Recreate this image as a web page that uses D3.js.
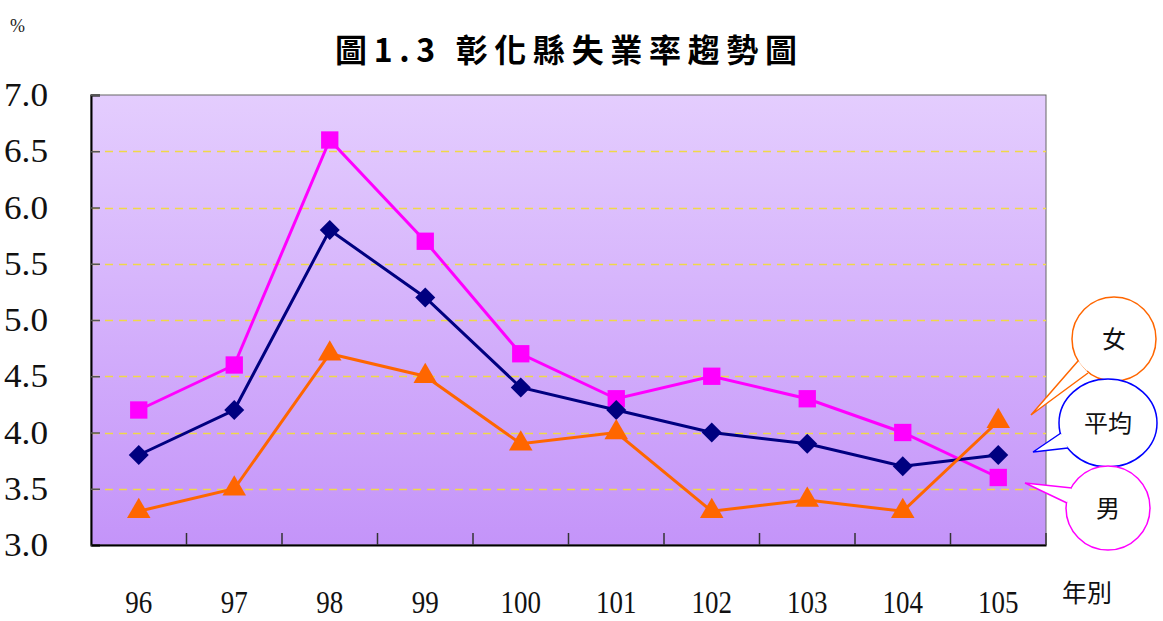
<!DOCTYPE html>
<html><head><meta charset="utf-8">
<script src="https://cdn.jsdelivr.net/npm/d3@7"></script>
<style>body{margin:0;background:#fff}svg{display:block}</style>
</head><body><svg id="c" width="1163" height="621"></svg>
<script>
const years = ["96","97","98","99","100","101","102","103","104","105"];
const male = [4.2,4.6,6.6,5.7,4.7,4.3,4.5,4.3,4.0,3.6];
const average = [3.8,4.2,5.8,5.2,4.4,4.2,4.0,3.9,3.7,3.8];
const female = [3.3,3.5,4.7,4.5,3.9,4.0,3.3,3.4,3.3,4.1];
const yTicks = [3.0,3.5,4.0,4.5,5.0,5.5,6.0,6.5,7.0];
const yTickLabels = ["3.0","3.5","4.0","4.5","5.0","5.5","6.0","6.5","7.0"];
const title = "圖1.3 彰化縣失業率趨勢圖";

const svg = d3.select("#c");
const L=91,R=1046,T=95,B=545;
const x = d3.scaleBand().domain(years).range([L,R]);
const y = d3.scaleLinear().domain([3,7]).range([B,T]);
const serif = "'Liberation Serif','DejaVu Serif',serif";
const cjk = "'Noto Sans CJK TC','Noto Sans CJK SC',sans-serif";

const defs = svg.append("defs");
const g = defs.append("linearGradient").attr("id","bg").attr("x1",0).attr("y1",0).attr("x2",0).attr("y2",1);
g.append("stop").attr("offset","0%").attr("stop-color","#e4cdfe");
g.append("stop").attr("offset","100%").attr("stop-color","#c494f9");

svg.append("rect").attr("x",L).attr("y",T).attr("width",R-L).attr("height",B-T)
  .attr("fill","url(#bg)").attr("stroke","#666").attr("stroke-width",1);

// gridlines
svg.append("g").selectAll("line").data(yTicks.filter(v=>v>3&&v<7)).join("line")
  .attr("x1",L).attr("x2",R).attr("y1",d=>Math.round(y(d))+0.5).attr("y2",d=>Math.round(y(d))+0.5)
  .attr("stroke","#f0d848").attr("stroke-width",1.3).attr("stroke-dasharray","8,6");

// y axis with inside ticks
const ya = svg.append("g").attr("transform",`translate(${L},0)`)
  .call(d3.axisLeft(y).tickValues(yTicks).tickSize(-9).tickFormat(""));
ya.select(".domain").attr("stroke","#000").attr("stroke-width",2);
ya.selectAll(".tick line").attr("stroke","#555").attr("stroke-width",1.5);

// x axis with boundary ticks
const xa = svg.append("g").attr("transform",`translate(0,${B})`)
  .call(d3.axisBottom(x).tickSize(0).tickFormat(""));
xa.select(".domain").attr("stroke","#000").attr("stroke-width",2);
svg.append("g").selectAll("line").data(years.slice(1)).join("line")
  .attr("x1",d=>x(d)).attr("x2",d=>x(d)).attr("y1",B).attr("y2",B-12)
  .attr("stroke","#333").attr("stroke-width",1.5);
svg.append("line").attr("x1",R).attr("x2",R).attr("y1",B).attr("y2",B-12).attr("stroke","#333").attr("stroke-width",1.5);

// y labels
svg.append("g").selectAll("text").data(yTicks).join("text")
  .attr("x",4).attr("y",(d)=>y(d)+11)
  .attr("textLength",44).attr("lengthAdjust","spacingAndGlyphs")
  .attr("font-family",serif).attr("font-size",33).attr("fill","#111")
  .text((d,i)=>yTickLabels[i]);

// x labels
svg.append("g").selectAll("text").data(years).join("text")
  .attr("x",d=>x(d)+x.bandwidth()/2).attr("y",613)
  .attr("textLength",d=>d.length*13.5).attr("lengthAdjust","spacingAndGlyphs")
  .attr("text-anchor","middle").attr("font-family",serif).attr("font-size",31).attr("fill","#111")
  .text(d=>d);

const cx = d=>x(d)+x.bandwidth()/2;
const line = vals => d3.line().x((v,i)=>cx(years[i])).y(v=>y(v))(vals);

function series(vals,color,sym,size,rot){
  svg.append("path").attr("d",line(vals)).attr("fill","none").attr("stroke",color).attr("stroke-width",3);
  svg.append("g").selectAll("path").data(vals).join("path")
    .attr("transform",(v,i)=>`translate(${cx(years[i])},${y(v)}) rotate(${rot})`)
    .attr("d",d3.symbol().type(sym).size(size)).attr("fill",color);
}
series(male,"#ff00ff",d3.symbolSquare,300,0);
series(average,"#000080",d3.symbolSquare,200,45);
series(female,"#ff6600",d3.symbolTriangle,240,0);

// title
svg.append("text").attr("x",335).attr("y",62).attr("textLength",462).attr("lengthAdjust","spacing")
  .attr("font-family",cjk).attr("font-weight","bold").attr("font-size",32).attr("fill","#000").text(title);
svg.append("text").attr("x",10).attr("y",32).attr("font-family",serif).attr("font-size",18).attr("fill","#222").text("%");
svg.append("text").attr("x",1062).attr("y",602).attr("font-family",cjk).attr("font-size",25).attr("fill","#111").text("年別");

// callouts
const callouts = [
  {label:"女",color:"#ff6600",cx:1114,cy:339,rx:42,ry:42,p:[[1078,361],[1031,415],[1088,373]]},
  {label:"平均",color:"#0000ff",cx:1108,cy:423,rx:49,ry:44,p:[[1061,433],[1033,452],[1068,448]]},
  {label:"男",color:"#ff00ff",cx:1108,cy:508,rx:42,ry:42,p:[[1072,488],[1025,483],[1067,503]]}
];
callouts.forEach(c=>{
  const gg = svg.append("g");
  gg.append("ellipse").attr("cx",c.cx).attr("cy",c.cy).attr("rx",c.rx).attr("ry",c.ry)
    .attr("fill","#fff").attr("stroke",c.color).attr("stroke-width",1.5);
  gg.append("path").attr("d",`M${c.p[0]}L${c.p[1]}L${c.p[2]}`).attr("fill","#fff").attr("stroke",c.color).attr("stroke-width",1.5);
  gg.append("path").attr("d",`M${c.p[0][0]+2},${c.p[0][1]}L${c.p[2][0]},${c.p[2][1]-3}`).attr("stroke","#fff").attr("stroke-width",3);
  gg.append("text").attr("x",c.cx).attr("y",c.cy+9).attr("text-anchor","middle")
    .attr("font-family",cjk).attr("font-size",24).attr("fill","#111").text(c.label);
});
</script></body></html>
